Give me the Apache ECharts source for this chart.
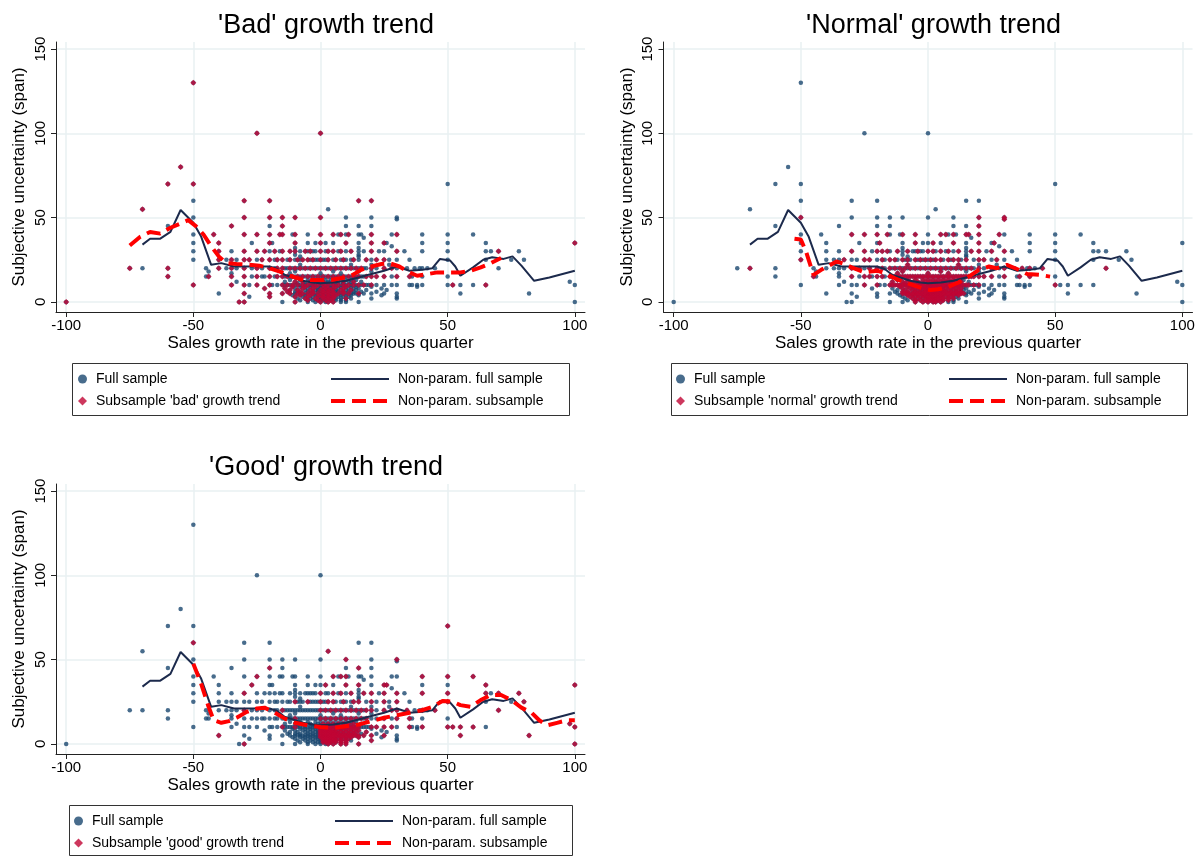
<!DOCTYPE html>
<html><head><meta charset="utf-8">
<script src="https://cdn.jsdelivr.net/npm/echarts@6/dist/echarts.min.js"></script>
<style>html,body{margin:0;padding:0;background:#fff}#c{width:1200px;height:856px}</style>
</head><body><div id="c"></div>
<script>
// ---------- DATA ----------
const xTicks = [-100, -50, 0, 50, 100];
const yTicks = [0, 50, 100, 150];

// Full sample: rows of [y, [x values]]
const fullRows = [
  [130, [-50]],
  [100, [-25, 0]],
  [80, [-55]],
  [70, [-60, -50, 50]],
  [60, [-50, -30, -20, 15, 20]],
  [55, [-70, 3]],
  [50, [-50, -30, -20, -15, -10, 0, 10, 20, 30]],
  [49, [30]],
  [45, [-60, -35, -20, -15, 10, 15, 20]],
  [40, [-50, -42, -30, -25, -20, -16, -15, -11, -10, -5, 0, 5, 7, 8, 10, 11, 15, 16, 20, 28, 30, 40, 50, 60]],
  [38, [17]],
  [35, [-50, -40, -27, -20, -19, -10, -5, -2, 0, 2, 5, 10, 15, 20, 25, 26, 40, 50, 65, 100]],
  [33, [28]],
  [32, [-10, 15]],
  [30, [-50, -40, -35, -30, -25, -22, -20, -18, -16, -15, -12, -10, -8, -6, -5, -4, -3, -2, 0, 2, 3, 5, 7, 8, 10, 12, 15, 17, 20, 23, 25, 30, 33, 40, 50, 65, 67, 70, 78]],
  [28, [-10, 15]],
  [27, [-8, 15]],
  [25, [-50, -40, -37, -35, -33, -30, -28, -25, -23, -20, -18, -17, -15, -13, -12, -10, -9, -8, -7, -5, -4, -3, -2, -1, 0, 1, 2, 3, 5, 6, 8, 9, 10, 12, 13, 15, 18, 20, 22, 25, 27, 30, 35, 50, 65, 75, 80]],
  [22, [-8, 12, 20, 27]],
  [20, [-75, -70, -60, -45, -40, -37, -35, -33, -30, -27, -25, -23, -20, -18, -17, -15, -14, -13, -12, -11, -10, -9, -8, -7, -6, -5, -4, -3, -2, -1, 0, 1, 2, 3, 4, 5, 6, 7, 8, 9, 10, 11, 12, 13, 14, 15, 16, 17, 18, 20, 22, 25, 28, 30, 34, 37, 39, 40, 42, 45, 70]],
  [18, [-44, -10, 5, 15, 20]],
  [17, [-35, -12, 0, 8]],
  [15, [-60, -45, -44, -35, -30, -27, -25, -23, -22, -20, -18, -17, -15, -14, -13, -12, -11, -10, -9, -8, -7, -6, -5, -4, -3, -2, -1, 0, 1, 2, 3, 4, 5, 6, 7, 8, 9, 10, 11, 12, 13, 14, 15, 16, 17, 18, 20, 22, 25, 28, 30, 35, 36, 40, 50]],
  [13, [-12, -8, -5, -2, 0, 2, 4, 6, 8, 10, 12, 14]],
  [12, [-33, -14, -10, -7, -4, -1, 1, 3, 5, 7, 9, 11, 13, 16, 98]],
  [11, [-9, -6, -3, 0, 3, 6, 9, 12]],
  [10, [-50, -35, -30, -28, -25, -20, -19, -17, -15, -14, -13, -12, -11, -10, -9, -8, -7, -6, -5, -4, -3, -2, -1, 0, 1, 2, 3, 4, 5, 6, 7, 8, 9, 10, 11, 12, 13, 14, 15, 16, 17, 18, 19, 20, 22, 25, 28, 30, 35, 36, 38, 40, 50, 52, 55, 60, 65, 100]],
  [9, [-11, -8, -6, -4, -2, 0, 1, 2, 4, 6, 8, 10, 12, 14, 20, 38]],
  [8, [-22, -14, -10, -7, -5, -3, -1, 0, 1, 2, 3, 4, 5, 7, 9, 11, 13, 15, 24]],
  [7, [-12, -9, -6, -4, -2, -1, 0, 1, 2, 3, 4, 5, 6, 8, 10, 12, 14, 18, 26]],
  [6, [-13, -10, -8, -5, -3, -1, 0, 1, 2, 3, 4, 5, 6, 7, 9, 11, 13, 16, 22]],
  [5, [-40, -30, -20, -15, -12, -10, -9, -8, -7, -6, -5, -4, -3, -2, -1, 0, 1, 2, 3, 4, 5, 6, 7, 8, 9, 10, 11, 12, 13, 14, 15, 17, 20, 25, 30, 55, 82]],
  [4, [-11, -8, -6, -4, -2, -1, 0, 1, 2, 3, 4, 5, 6, 8, 10, 12, 15, 24]],
  [3, [-28, -20, -10, -7, -5, -3, -1, 0, 1, 2, 3, 4, 5, 7, 9, 11, 30]],
  [2, [-9, -6, -4, -2, 0, 1, 2, 3, 4, 5, 6, 8, 10, 12, 20, 30]],
  [1, [-8, -5, -3, -1, 0, 1, 2, 3, 4, 6, 8, 10]],
  [0, [-100, -32, -30, -15, -10, -5, -2, 0, 2, 3, 5, 8, 10, 15, 100]]
];

const badRows = [
  [130, [-50]], [100, [-25, 0]], [80, [-55]], [70, [-60, -50]],
  [60, [-30, -20, 15, 20]], [55, [-70]], [50, [-30, -20, -15, -10, 0]], [45, [-35, -15]],
  [40, [-42, -30, -25, -20, -16, -15, -10, 0, 5, 8, 11, 20, 30]],
  [35, [-40, -20, -10, 0, 10, 20, 25, 100]],
  [30, [-40, -30, -25, -22, -18, -15, -12, -10, -6, -4, 0, 3, 5, 8, 12, 20, 30, 70]],
  [25, [-40, -35, -30, -28, -23, -20, -17, -15, -12, -9, -7, -5, -3, 0, 3, 6, 9, 13, 18, 22, 25]],
  [20, [-75, -60, -40, -35, -30, -25, -20, -17, -15, -12, -10, -8, -6, -4, -2, 0, 2, 4, 6, 8, 10, 12, 14, 16, 20, 25, 28]],
  [15, [-60, -44, -35, -30, -25, -20, -17, -15, -13, -11, -9, -7, -5, -3, -1, 1, 3, 5, 7, 9, 11, 13, 15, 18, 20, 22, 25, 30, 35]],
  [12, [-10, -7, -4, 1, 5, 9, 13]],
  [10, [-50, -35, -30, -25, -20, -15, -13, -11, -9, -7, -5, -3, -1, 1, 3, 5, 7, 9, 11, 13, 15, 17, 20, 52, 65]],
  [9, [-11, -6, -2, 2, 6, 10]],
  [8, [-22, -14, -7, -3, 1, 3, 5, 9]],
  [7, [-12, -9, -4, 0, 2, 4, 8, 12]],
  [6, [-13, -8, -3, 1, 3, 5, 9]],
  [5, [-30, -20, -15, -12, -9, -7, -5, -3, -1, 1, 3, 5, 7, 9, 11, 15]],
  [4, [-8, -4, 0, 2, 4, 6]],
  [3, [-20, -10, -5, -1, 1, 3, 5]],
  [2, [-6, -2, 1, 3, 5, 10]],
  [1, [-5, -1, 2, 4]],
  [0, [-100, -32, -30, -10, 0, 3, 5]]
];

const normalRows = [
  [50, [-50, 20, 30]], [49, [30]], [45, [20]],
  [40, [-30, -25, -20, -16, -10, -5, 5, 7, 10, 15, 16, 20, 28]],
  [35, [-19, -5, 2, 10, 20, 26]],
  [30, [-30, -25, -20, -18, -16, -12, -8, -4, 0, 2, 5, 8, 12, 17, 20, 25, 30]],
  [25, [-50, -33, -25, -23, -18, -15, -13, -10, -8, -5, -3, -1, 1, 3, 5, 8, 10, 12, 15, 20, 22, 27]],
  [22, [-8, 12]],
  [20, [-70, -30, -27, -23, -20, -18, -15, -13, -11, -9, -7, -5, -3, -1, 1, 3, 5, 7, 9, 11, 13, 15, 17, 20, 25, 30, 37, 40, 45, 70]],
  [18, [-10, 5]], [17, [-12, 0, 8]],
  [15, [-45, -30, -25, -23, -20, -18, -15, -14, -13, -12, -11, -10, -9, -8, -7, -6, -5, -4, -3, -2, -1, 0, 1, 2, 3, 4, 5, 6, 7, 8, 9, 10, 11, 12, 13, 14, 15, 16, 17, 18, 20, 22, 25, 30, 36, 40]],
  [13, [-12, -8, -5, -2, 0, 2, 4, 6, 8, 10, 12]],
  [12, [-14, -10, -7, -4, -1, 1, 3, 5, 7, 9, 11, 13]],
  [11, [-9, -6, -3, 0, 3, 6, 9, 12]],
  [10, [-25, -20, -15, -14, -13, -12, -11, -10, -9, -8, -7, -6, -5, -4, -3, -2, -1, 0, 1, 2, 3, 4, 5, 6, 7, 8, 9, 10, 11, 12, 13, 14, 15, 16, 18, 20, 50]],
  [9, [-11, -8, -6, -4, -2, 0, 1, 2, 4, 6, 8, 10, 12]],
  [8, [-10, -7, -5, -3, -1, 0, 1, 2, 3, 4, 5, 7, 9, 11, 13]],
  [7, [-9, -6, -4, -2, -1, 0, 1, 2, 3, 4, 5, 6, 8, 10, 12]],
  [6, [-10, -8, -5, -3, -1, 0, 1, 2, 3, 4, 5, 6, 7, 9, 11, 13]],
  [5, [-10, -9, -8, -7, -6, -5, -4, -3, -2, -1, 0, 1, 2, 3, 4, 5, 6, 7, 8, 9, 10, 11, 12, 13, 14]],
  [4, [-8, -6, -4, -2, -1, 0, 1, 2, 3, 4, 5, 6, 8, 10, 12]],
  [3, [-7, -5, -3, -1, 0, 1, 2, 3, 4, 5, 7, 9]],
  [2, [-6, -4, -2, 0, 1, 2, 3, 4, 5, 6, 8, 10]],
  [1, [-5, -3, -1, 0, 1, 2, 3, 4, 6, 8]],
  [0, [-5, -2, 0, 2, 3, 5]]
];

const goodRows = [
  [70, [50]], [60, [-50]], [55, [3]], [50, [10, 30]], [45, [-20, 15]],
  [40, [-25, 5, 8, 10, 40, 50, 60]],
  [35, [-27, 2, 10, 15, 25, 26, 65, 100]],
  [30, [-30, 0, 5, 8, 12, 17, 20, 25, 30, 40, 50, 65, 70, 78]],
  [25, [-10, -5, 0, 3, 5, 9, 13, 15, 20, 25, 30, 50, 80]],
  [20, [-30, -15, 0, 2, 4, 6, 8, 10, 12, 14, 16, 18, 20, 25, 28, 30, 34, 40, 45, 70]],
  [15, [-10, 0, 2, 4, 6, 8, 10, 12, 14, 16, 18, 25, 30, 35]],
  [12, [1, 3, 5, 7, 9, 11, 13, 98]],
  [10, [-15, -10, 0, 1, 2, 3, 4, 5, 6, 7, 8, 9, 10, 11, 12, 13, 14, 15, 20, 22, 25, 28, 35, 40, 50, 52, 55, 60, 100]],
  [9, [0, 2, 4, 6, 8, 10, 12, 14]],
  [8, [0, 1, 2, 3, 4, 5, 7, 9, 11, 13, 15]],
  [7, [0, 1, 2, 3, 4, 5, 6, 8, 10, 12, 14, 18]],
  [6, [0, 1, 2, 3, 4, 5, 6, 7, 9, 11, 13]],
  [5, [-40, 0, 1, 2, 3, 4, 5, 6, 7, 8, 9, 10, 11, 12, 13, 14, 15, 17, 20, 25, 55, 82]],
  [4, [0, 1, 2, 3, 4, 5, 6, 8, 10, 12, 15]],
  [3, [1, 2, 3, 4, 5, 7, 9, 11]],
  [2, [1, 2, 3, 4, 5, 6, 8, 10, 20]],
  [1, [1, 2, 3, 4, 6, 8, 10]],
  [0, [-30, 3, 5, 8, 10, 15, 100]]
];

// Non-parametric fits
const fullTrend = [[-70,34],[-67,37.5],[-63,37.5],[-59,41.5],[-55,54.5],[-50,47],[-47,39],[-43,22],[-39,23],[-34,21],[-25,21],[-20,21],[-17,19.5],[-14,16],[-10,14],[-7,12.5],[-3,11.5],[0,11],[5,11.5],[10,12.5],[15,14.5],[20,16.5],[25,18.5],[30,21],[35,18.5],[40,19],[44,20],[47,25.5],[51,24.5],[53,21],[55,15.5],[60,20.5],[64,25],[67.5,26.5],[72,25.5],[75.5,27],[79,21.5],[84,12.5],[90,14.5],[100,18.5]];
const badTrend = [[-75,33.5],[-71,38.5],[-67,41.5],[-63,40.5],[-59,44],[-55,46.5],[-52,48.5],[-49,45],[-46,40],[-43,33],[-40,27],[-37,23],[-33,22.5],[-28,22],[-24,21.5],[-20,20],[-16,18],[-12,15.5],[-8,13.5],[-4,13],[0,13],[4,13],[8,14],[12,15.5],[16,19],[20,21],[24,22.5],[27,23],[31,21],[35,17.5],[38,15.5],[42,16.5],[46,17.5],[50,17.5],[55,17.5],[59,18.5],[63,20.5],[67,23],[71,26]];
const normalTrend = [[-52.5,37.5],[-50,37],[-48,30],[-45,16],[-42,19],[-36,24],[-33,22.5],[-30,20.5],[-25,17.5],[-20,18.5],[-17,17],[-13,14],[-9,11.5],[-5,9.5],[-2,8],[1,7],[4,7.5],[8,9],[12,11.5],[16,15],[20,19],[24,21],[27,20],[31,22],[35,19.5],[39,16.5],[44,16],[48,15]];
const goodTrend = [[-50,47.5],[-47,36],[-44,22],[-42,14],[-39,12.5],[-36,13.5],[-33,15.5],[-29,19],[-25,21],[-22,21.5],[-18,18.5],[-14,15],[-10,12.5],[-5,11],[0,10],[5,9.5],[10,10.5],[15,11.5],[20,13.5],[25,15.5],[30,17],[35,18.5],[40,20],[44,22],[48,25.5],[52,25],[55,23],[59,22],[63,26],[67,29],[71,29],[75,26],[79,21.5],[83,18.5],[86,14],[89,11],[93,12.5],[97,14],[100,14]];

const titles = ["'Bad' growth trend", "'Normal' growth trend", "'Good' growth trend"];
const subNames = ["Subsample 'bad' growth trend", "Subsample 'normal' growth trend", "Subsample 'good' growth trend"];
const xTitle = "Sales growth rate in the previous quarter";
const yTitle = "Subjective uncertainty (span)";

// ---------- BUILD ----------
const toPts = rows => rows.flatMap(([y, xs]) => xs.map(x => [x, y]));
const fullPts = toPts(fullRows);
const subRows = [badRows, normalRows, goodRows];
const subTrends = [badTrend, normalTrend, goodTrend];

const FONT = "'Liberation Sans', Arial, sans-serif";
const BLUE = '#1a476f', RED = '#c10534', NAVY = '#1c2a4c', BRED = '#ff0000';
const GRIDC = '#e8f0f2';
const DASH = [14, 7];

// layout per panel
const L = [
  {gx: 56, gy: 42, tx: 321, ty: 7, box: [72, 363, 497, 52], l1: 78, l2: 329, lt: 372},
  {gx: 663.5, gy: 42, tx: 928.5, ty: 7, box: [671, 363, 516, 52], l1: 676, l2: 947, lt: 372},
  {gx: 56, gy: 484, tx: 321, ty: 449, box: [69, 805, 503, 50], l1: 74, l2: 333, lt: 814}
];
const GW = 529, GH = 270;

const option = {
  backgroundColor: '#fff',
  animation: false,
  textStyle: {fontFamily: FONT},
  title: [], grid: [], xAxis: [], yAxis: [], series: [], legend: [], graphic: []
};

L.forEach((p, i) => {
  option.title.push({text: titles[i], left: p.tx, top: p.ty, textAlign: 'center',
    textStyle: {fontFamily: FONT, fontSize: 27, fontWeight: 'normal', color: '#000'}});
  option.grid.push({left: p.gx, top: p.gy, width: GW, height: GH, containLabel: false});
  option.xAxis.push({
    type: 'value', gridIndex: i, min: -104, max: 104,
    name: xTitle, nameLocation: 'middle', nameGap: 23,
    nameTextStyle: {fontFamily: FONT, fontSize: 17, color: '#000'},
    axisLine: {show: true, onZero: false, lineStyle: {color: '#222', width: 1}},
    axisTick: {show: true, length: 5, customValues: xTicks, lineStyle: {color: '#222'}},
    axisLabel: {customValues: xTicks, fontFamily: FONT, fontSize: 15, color: '#000', margin: 6},
    splitLine: {show: true, lineStyle: {color: GRIDC, width: 1.5}}
  });
  option.yAxis.push({
    type: 'value', gridIndex: i, min: -6, max: 154.2,
    name: yTitle, nameLocation: 'middle', nameGap: 28, nameRotate: 90,
    nameTextStyle: {fontFamily: FONT, fontSize: 17, color: '#000'},
    axisLine: {show: true, onZero: false, lineStyle: {color: '#222', width: 1}},
    axisTick: {show: true, length: 5, customValues: yTicks, lineStyle: {color: '#222'}},
    axisLabel: {customValues: yTicks, rotate: 90, fontFamily: FONT, fontSize: 15, color: '#000', margin: 8},
    splitLine: {show: true, lineStyle: {color: GRIDC, width: 1.5}}
  });
  option.series.push(
    {name: 'Full sample', type: 'scatter', xAxisIndex: i, yAxisIndex: i, data: fullPts,
     symbol: 'circle', symbolSize: 4.5, itemStyle: {color: BLUE}, z: 2, clip: false},
    {name: subNames[i], type: 'scatter', xAxisIndex: i, yAxisIndex: i, data: toPts(subRows[i]),
     symbol: 'diamond', symbolSize: 6, itemStyle: {color: RED}, z: 3, clip: false},
    {name: 'Non-param. full sample', type: 'line', xAxisIndex: i, yAxisIndex: i, data: fullTrend,
     symbol: 'none', lineStyle: {color: NAVY, width: 2}, itemStyle: {color: NAVY}, z: 4},
    {name: 'Non-param. subsample', type: 'line', xAxisIndex: i, yAxisIndex: i, data: subTrends[i],
     symbol: 'none', lineStyle: {color: BRED, width: 4, type: DASH}, itemStyle: {color: BRED}, z: 5}
  );
  option.legend.push({
    orient: 'vertical', left: p.l1, top: p.lt, height: 48, padding: 0,
    itemWidth: 9, itemHeight: 9, itemGap: 8, selectedMode: false,
    data: [{name: 'Full sample', icon: 'circle'}, {name: subNames[i], icon: 'diamond'}],
    textStyle: {fontFamily: FONT, fontSize: 14, color: '#000', padding: [0, 0, 0, 4]}
  });
  option.legend.push({
    orient: 'vertical', left: p.l2, top: p.lt, height: 48, padding: 0,
    itemWidth: 58, itemHeight: 9, itemGap: 8, selectedMode: false,
    itemStyle: {opacity: 0, borderWidth: 0},
    data: [
      {name: 'Non-param. full sample', itemStyle: {opacity: 0}, lineStyle: {color: NAVY, width: 2}},
      {name: 'Non-param. subsample', itemStyle: {opacity: 0}, lineStyle: {color: BRED, width: 4, type: DASH}}
    ],
    textStyle: {fontFamily: FONT, fontSize: 14, color: '#000', padding: [0, 0, 0, 4]}
  });
  option.graphic.push({type: 'rect', silent: true, z: 0,
    shape: {x: p.box[0] + 0.5, y: p.box[1] + 0.5, width: p.box[2], height: p.box[3]},
    style: {fill: 'none', stroke: '#333', lineWidth: 1}});
});

const chart = echarts.init(document.getElementById('c'), null, {renderer: 'canvas'});
chart.setOption(option);
</script></body></html>
